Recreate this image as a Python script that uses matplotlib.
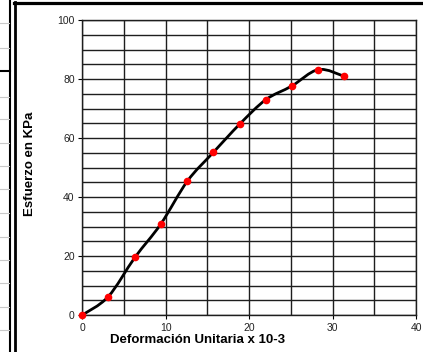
import numpy as np
import matplotlib.pyplot as plt
from matplotlib.path import Path
from matplotlib.patches import PathPatch
from matplotlib.lines import Line2D
from matplotlib.ticker import MultipleLocator

# data
deformacion = [0, 3.1, 6.3, 9.4, 12.6, 15.7, 18.9, 22.0, 25.1, 28.3, 31.4]
esfuerzo = [0, 6.2, 19.5, 30.8, 45.4, 55.1, 64.8, 73.0, 77.6, 83.2, 80.9]
x_ticks = [0, 10, 20, 30, 40]
y_ticks = [0, 20, 40, 60, 80, 100]

plt.rcParams['font.family'] = ['Liberation Sans', 'DejaVu Sans']

W, H = 423, 352
fig = plt.figure(figsize=(W / 100, H / 100), dpi=100)
ax = fig.add_axes([82.3 / W, 1 - 315 / H, 333.7 / W, 295 / H])


def fx(px):
    return px / W


def fy(py):
    return 1 - py / H


# smoothed line (Excel style, cubic Bezier through the points)
x = np.array(deformacion, dtype=float)
y = np.array(esfuerzo, dtype=float)
n = len(x)
verts = [(x[0], y[0])]
codes = [Path.MOVETO]
for i in range(n - 1):
    i0 = max(i - 1, 0)
    i3 = min(i + 2, n - 1)
    c1 = (x[i] + (x[i + 1] - x[i0]) / 6, y[i] + (y[i + 1] - y[i0]) / 6)
    c2 = (x[i + 1] - (x[i3] - x[i]) / 6, y[i + 1] - (y[i3] - y[i]) / 6)
    verts += [c1, c2, (x[i + 1], y[i + 1])]
    codes += [Path.CURVE4] * 3
ax.add_patch(PathPatch(Path(verts, codes), facecolor='none', edgecolor='black',
                       lw=2.0, zorder=3, clip_on=False))
ax.plot(deformacion, esfuerzo, 'o', color='red', markersize=5.5, mec='none',
        zorder=4, clip_on=False)

ax.set_xlim(0, 40)
ax.set_ylim(0, 100)
ax.set_xticks(x_ticks)
ax.set_yticks(y_ticks)
ax.xaxis.set_minor_locator(MultipleLocator(5))
ax.yaxis.set_minor_locator(MultipleLocator(5))
ax.grid(which='both', color='#1e1e1e', lw=1.0)
ax.set_axisbelow(True)
ax.tick_params(which='major', length=3, width=0.8, pad=2.5, labelsize=7.5,
               labelcolor='#222222')
ax.tick_params(which='minor', length=0)
for s in ax.spines.values():
    s.set_color('#1e1e1e')
    s.set_linewidth(1.0)

fig.text(fx(30), fy(164), 'Esfuerzo en KPa', rotation=90, ha='center',
         va='center', fontsize=9.5, fontweight='bold')
fig.text(fx(198), fy(340), 'Deformación Unitaria x 10-3', ha='center',
         va='center', fontsize=9.5, fontweight='bold')

# surrounding sheet borders
fig.add_artist(Line2D([fx(10), fx(10)], [0, 1], color='black', lw=1.5))
fig.add_artist(Line2D([fx(14.5), fx(14.5)], [0, fy(2)], color='black', lw=2.0))
fig.add_artist(Line2D([fx(13.5), 1], [fy(3), fy(3)], color='black', lw=2.3))
for yy in [23, 48, 97, 119, 143, 166, 189, 213, 237, 260, 283, 307, 330]:
    fig.add_artist(Line2D([0, fx(9)], [fy(yy), fy(yy)], color='#c8c8c8', lw=0.8))
fig.add_artist(Line2D([0, fx(10)], [fy(71), fy(71)], color='black', lw=1.5))

fig.savefig('out.png', dpi=100)
